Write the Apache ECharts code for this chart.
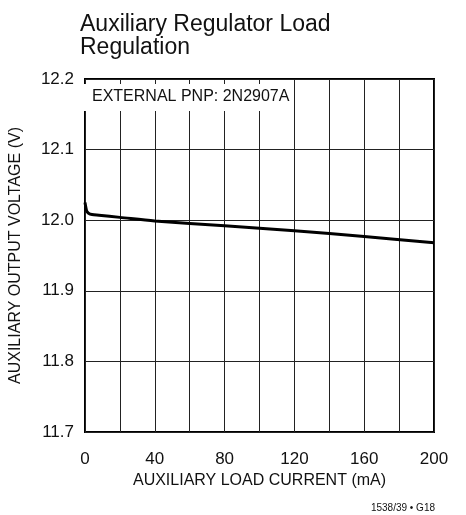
<!DOCTYPE html>
<html>
<head>
<meta charset="utf-8">
<script src="https://cdn.jsdelivr.net/npm/echarts@6/dist/echarts.min.js"></script>
<style>html,body{margin:0;padding:0;background:#fff}#c{width:466px;height:515px}</style>
</head>
<body>
<div id="c"></div>
<script>
var currentMA = [0, 0.5, 1, 2, 4, 8, 20, 40, 80, 120, 160, 200];
var voltageV = [12.025, 12.018, 12.013, 12.010, 12.008, 12.007, 12.004, 11.999, 11.992, 11.985, 11.977, 11.968];
var xTickLabels = ['0', '40', '80', '120', '160', '200'];
var yTickLabels = ['11.7', '11.8', '11.9', '12.0', '12.1', '12.2'];
var FONT = "'Liberation Sans', Arial, sans-serif";

var chart = echarts.init(document.getElementById('c'), null, {renderer: 'canvas'});
var data = currentMA.map(function (x, i) { return [x, voltageV[i]]; });
chart.setOption({
  animation: false,
  backgroundColor: '#fff',
  title: {
    text: 'Auxiliary Regulator Load\nRegulation',
    left: 75, top: 8,
    textStyle: {fontFamily: FONT, fontSize: 23, fontWeight: 'normal', color: '#111', lineHeight: 23}
  },
  grid: {left: 82, right: 32, top: 79, bottom: 83, show: true, borderColor: '#000', borderWidth: 2, containLabel: false},
  xAxis: {
    type: 'value', min: 0, max: 200, interval: 20,
    name: 'AUXILIARY LOAD CURRENT (mA)', nameLocation: 'middle', nameGap: 40,
    nameTextStyle: {fontFamily: FONT, fontSize: 16, color: '#111'},
    axisLine: {show: false}, axisTick: {show: false},
    axisLabel: {
      margin: 19, fontFamily: FONT, fontSize: 17, color: '#111',
      formatter: function (v) { var i = xTickLabels.indexOf(String(v)); return i >= 0 ? xTickLabels[i] : ''; }
    },
    splitLine: {show: true, lineStyle: {color: '#222', width: 1}}
  },
  yAxis: {
    type: 'value', min: 11.7, max: 12.2, interval: 0.1,
    name: 'AUXILIARY OUTPUT VOLTAGE (V)', nameLocation: 'middle', nameGap: 61,
    nameTextStyle: {fontFamily: FONT, fontSize: 16, color: '#111'},
    axisLine: {show: false}, axisTick: {show: false},
    axisLabel: {
      margin: 11, fontFamily: FONT, fontSize: 17, color: '#111',
      formatter: function (v) { return yTickLabels[Math.round((v - 11.7) * 10)]; }
    },
    splitLine: {show: true, lineStyle: {color: '#222', width: 1}}
  },
  series: [{
    type: 'line', data: data, smooth: 0.3, showSymbol: false,
    lineStyle: {color: '#000', width: 3}
  }],
  graphic: [
    {type: 'rect', left: 84, top: 84, shape: {width: 206, height: 27}, style: {fill: '#fff'}, z: 10},
    {type: 'text', left: 92, top: 89, z: 11,
     style: {text: 'EXTERNAL PNP: 2N2907A', font: "16px " + FONT, fill: '#111'}},
    {type: 'text', right: 31, top: 503, z: 11,
     style: {text: '1538/39 \u2022 G18', font: "10px " + FONT, fill: '#111'}}
  ]
});
</script>
</body>
</html>
